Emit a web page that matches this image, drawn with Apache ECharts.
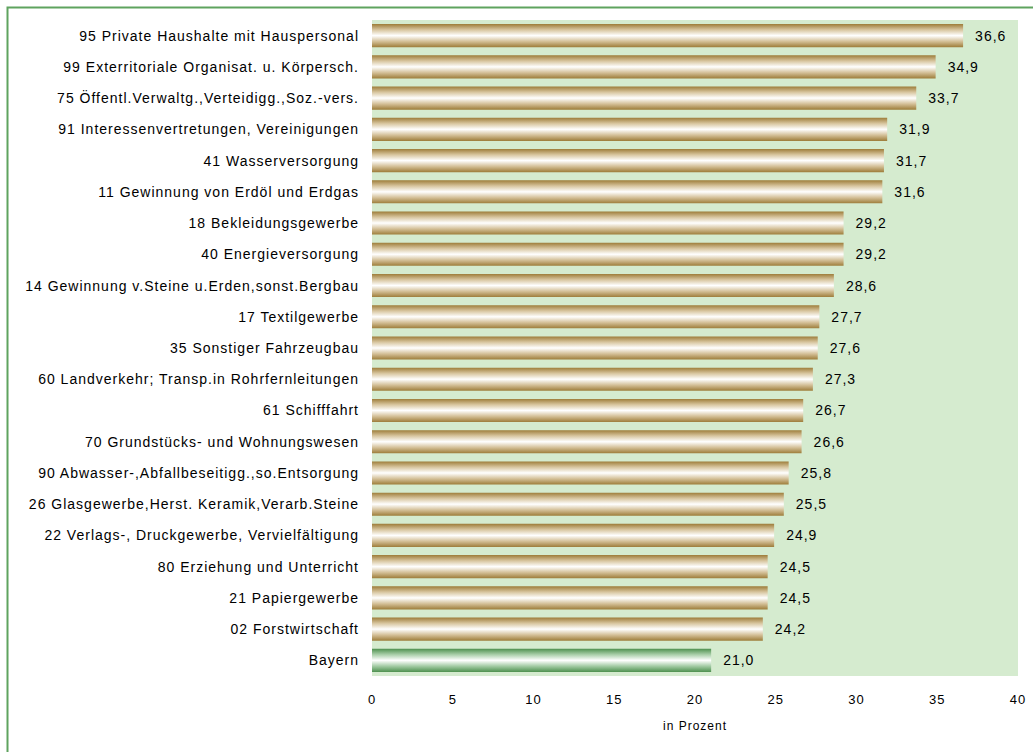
<!DOCTYPE html>
<html><head><meta charset="utf-8">
<script src="https://cdn.jsdelivr.net/npm/echarts@6/dist/echarts.min.js"></script>
<style>html,body{margin:0;padding:0;background:#fff}#c{width:1033px;height:752px}
#c svg text{letter-spacing:1px}</style>
</head><body><div id="c"></div>
<script>
const categories = [
"95 Private Haushalte mit Hauspersonal",
"99 Exterritoriale Organisat. u. Körpersch.",
"75 Öffentl.Verwaltg.,Verteidigg.,Soz.-vers.",
"91 Interessenvertretungen, Vereinigungen",
"41 Wasserversorgung",
"11 Gewinnung von Erdöl und Erdgas",
"18 Bekleidungsgewerbe",
"40 Energieversorgung",
"14 Gewinnung v.Steine u.Erden,sonst.Bergbau",
"17 Textilgewerbe",
"35 Sonstiger Fahrzeugbau",
"60 Landverkehr; Transp.in Rohrfernleitungen",
"61 Schifffahrt",
"70 Grundstücks- und Wohnungswesen",
"90 Abwasser-,Abfallbeseitigg.,so.Entsorgung",
"26 Glasgewerbe,Herst. Keramik,Verarb.Steine",
"22 Verlags-, Druckgewerbe, Vervielfältigung",
"80 Erziehung und Unterricht",
"21 Papiergewerbe",
"02 Forstwirtschaft",
"Bayern"
];
const values = [36.6,34.9,33.7,31.9,31.7,31.6,29.2,29.2,28.6,27.7,27.6,27.3,26.7,26.6,25.8,25.5,24.9,24.5,24.5,24.2,21.0];
const highlight = "Bayern";
const xTicks = [0,5,10,15,20,25,30,35,40];

const FONT = 'Liberation Sans, Arial, sans-serif';
const brown = new echarts.graphic.LinearGradient(0,0,0,1,[
 {offset:0,color:'#9e7d3a'},{offset:0.25,color:'#d8c6a0'},{offset:0.5,color:'#ffffff'},{offset:0.75,color:'#d4c098'},{offset:1,color:'#9e7d3a'}]);
const green = new echarts.graphic.LinearGradient(0,0,0,1,[
 {offset:0,color:'#4f9150'},{offset:0.25,color:'#a9cfa9'},{offset:0.5,color:'#ffffff'},{offset:0.75,color:'#a3cba4'},{offset:1,color:'#4f9150'}]);

const chart = echarts.init(document.getElementById('c'), null, {renderer:'svg'});
chart.setOption({
  animation:false,
  graphic:[{type:'rect',shape:{x:7.5,y:7.5,width:1040,height:760},style:{fill:'none',stroke:'#5fa35f',lineWidth:2},z:-10}],
  grid:{left:372,right:15,top:20,bottom:76,backgroundColor:'#d5ebcf',show:true,borderWidth:0},
  xAxis:{type:'value',min:0,max:40,interval:5,
    axisLine:{show:false},axisTick:{show:false},splitLine:{show:false},
    axisLabel:{color:'#000',fontFamily:FONT,fontSize:13,margin:17,
      formatter:v=>xTicks.includes(v)?String(v):''},
    name:'in Prozent',nameLocation:'middle',nameGap:44,
    nameTextStyle:{color:'#000',fontFamily:FONT,fontSize:12}},
  yAxis:{type:'category',data:categories,inverse:true,
    axisLine:{show:false},axisTick:{show:false},
    axisLabel:{color:'#000',fontFamily:FONT,fontSize:14,margin:13}},
  series:[{type:'bar',barCategoryGap:'26%',
    data:values.map((v,i)=>({value:v,itemStyle:{color:categories[i]===highlight?green:brown}})),
    label:{show:true,position:'right',distance:12,color:'#000',fontFamily:FONT,fontSize:14,
      formatter:p=>p.value.toFixed(1).replace('.',',')}}]
});
</script></body></html>
